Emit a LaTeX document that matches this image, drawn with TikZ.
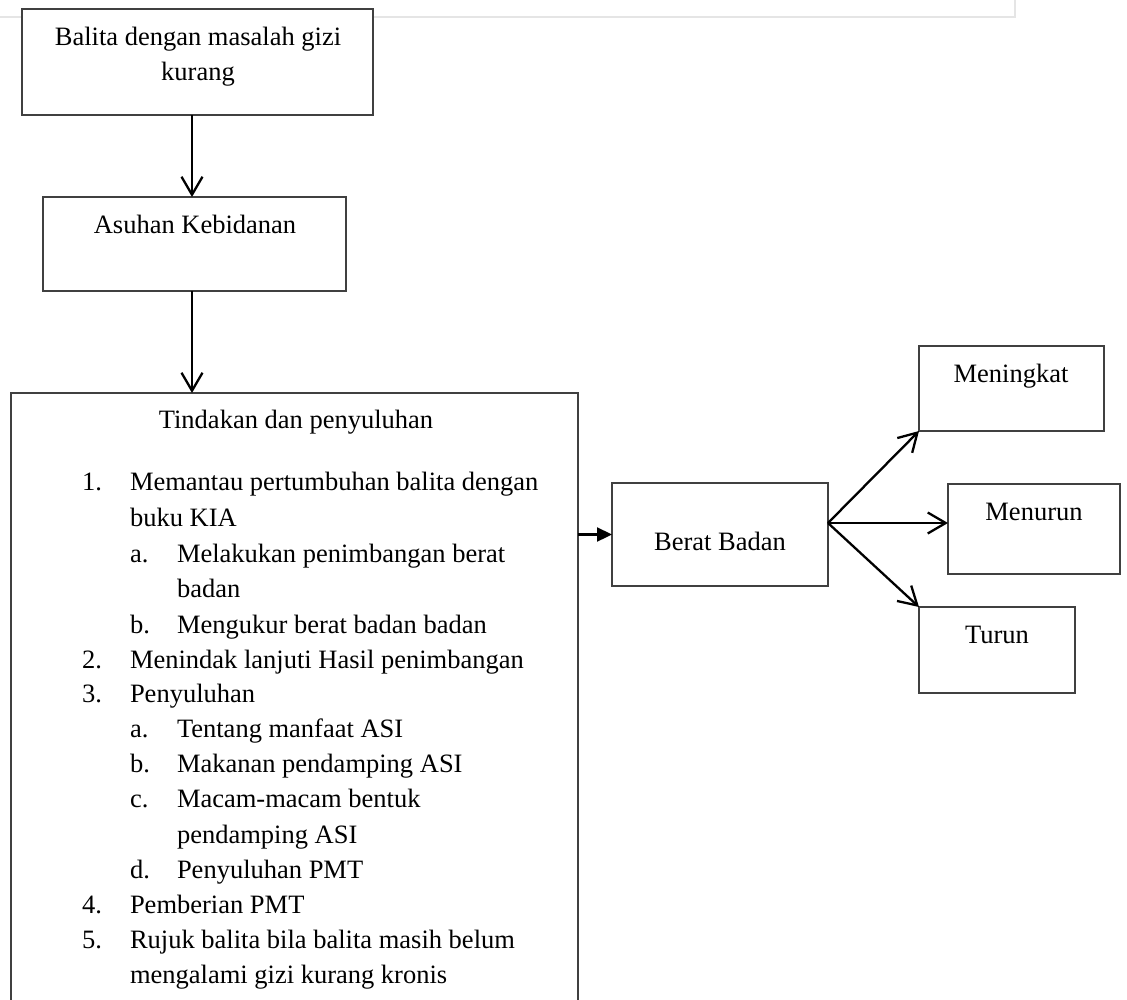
\documentclass[tikz,border=0pt]{standalone}
\usepackage{fontspec}
\setmainfont{Liberation Serif}
\usetikzlibrary{arrows.meta}
\begin{document}
\begin{tikzpicture}[x=1pt,y=-1pt,
  box/.style={draw=black!75, fill=white, line width=1.4pt, rectangle, inner sep=0pt, outer sep=0pt, anchor=north west},
  txt/.style={inner sep=0pt, outer sep=0pt, font=\fontsize{26.5}{35}\selectfont},
  lft/.style={txt, anchor=base west},
  ctr/.style={txt, anchor=base},
  barb/.style={line width=2.3pt, -{Straight Barb[length=18pt,width=21pt]}},
  solidarrow/.style={line width=2.3pt, -{Triangle[length=15pt,width=14pt]}},
  faint/.style={draw=black!10, line width=1.5pt}]
\useasboundingbox (0,0) rectangle (1127,999);
% faint page edge at the top
\coordinate (f0) at (0,17);
\coordinate (f1) at (1015,17);
\coordinate (f2) at (1015,0);
\draw[faint] (f0) -- (f1) -- (f2);

% boxes
\node[box, minimum width=351pt, minimum height=106pt] (b1) at (22,9) {};
\node[ctr] (b1a) at (198,45) {Balita dengan masalah gizi};
\node[ctr] (b1b) at (198,80) {kurang};

\node[box, minimum width=303pt, minimum height=94pt] (b2) at (43,197) {};
\node[ctr] (b2a) at (195,233) {Asuhan Kebidanan};

\node[box, minimum width=567pt, minimum height=660pt] (big) at (11,393) {};
\node[ctr] (title) at (296,428) {Tindakan dan penyuluhan};

\node[lft] (n1) at (82,490) {1.};
\node[lft] (t1) at (130,490) {Memantau pertumbuhan balita dengan};
\node[lft] (t1b) at (130,526) {buku KIA};
\node[lft] (n1a) at (130,562) {a.};
\node[lft] (t1a) at (177,562) {Melakukan penimbangan berat};
\node[lft] (t1a2) at (177,597) {badan};
\node[lft] (n1b) at (130,633) {b.};
\node[lft] (t1bb) at (177,633) {Mengukur berat badan badan};
\node[lft] (n2) at (82,668) {2.};
\node[lft] (t2) at (130,668) {Menindak lanjuti Hasil penimbangan};
\node[lft] (n3) at (82,702) {3.};
\node[lft] (t3) at (130,702) {Penyuluhan};
\node[lft] (n3a) at (130,737) {a.};
\node[lft] (t3a) at (177,737) {Tentang manfaat ASI};
\node[lft] (n3b) at (130,772) {b.};
\node[lft] (t3b) at (177,772) {Makanan pendamping ASI};
\node[lft] (n3c) at (130,807) {c.};
\node[lft] (t3c) at (177,807) {Macam-macam bentuk};
\node[lft] (t3c2) at (177,843) {pendamping ASI};
\node[lft] (n3d) at (130,878) {d.};
\node[lft] (t3d) at (177,878) {Penyuluhan PMT};
\node[lft] (n4) at (82,913) {4.};
\node[lft] (t4) at (130,913) {Pemberian PMT};
\node[lft] (n5) at (82,948) {5.};
\node[lft] (t5) at (130,948) {Rujuk balita bila balita masih belum};
\node[lft] (t5b) at (130,983) {mengalami gizi kurang kronis};

\node[box, minimum width=216pt, minimum height=103pt] (berat) at (612,483) {};
\node[ctr] (beratt) at (720,550) {Berat Badan};

\node[box, minimum width=185pt, minimum height=85pt] (naik) at (919,346) {};
\node[ctr] (naikt) at (1011,382) {Meningkat};

\node[box, minimum width=172pt, minimum height=90pt] (turun1) at (948,484) {};
\node[ctr] (turun1t) at (1034,520) {Menurun};

\node[box, minimum width=156pt, minimum height=86pt] (turun2) at (919,607) {};
\node[ctr] (turun2t) at (997,643) {Turun};

% connectors
\coordinate (a1) at ([xshift=-5.5pt]b1.south);
\draw[barb] (a1) -- (a1 |- b2.north);
\coordinate (a2) at ([xshift=-2.5pt]b2.south);
\draw[barb] (a2) -- (a2 |- big.north);
\draw[solidarrow] (big.east |- berat.west) -- (berat.west);
\coordinate (bb) at ([yshift=11.5pt]berat.east);
\draw[barb] (bb) -- (naik.south west);
\draw[barb] (bb) -- (bb -| turun1.west);
\draw[barb] (bb) -- (turun2.north west);
\end{tikzpicture}
\end{document}
